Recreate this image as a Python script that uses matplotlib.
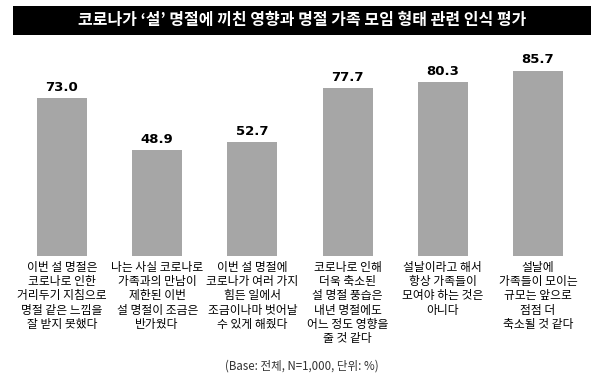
import matplotlib.pyplot as plt
from matplotlib.patches import Rectangle

plt.rcParams['font.family'] = ['Noto Sans CJK KR', 'DejaVu Sans']

title = "코로나가 ‘설’ 명절에 끼친 영향과 명절 가족 모임 형태 관련 인식 평가"
categories = [
    "이번 설 명절은\n코로나로 인한\n거리두기 지침으로\n명절 같은 느낌을\n잘 받지 못했다",
    "나는 사실 코로나로\n가족과의 만남이\n제한된 이번\n설 명절이 조금은\n반가웠다",
    "이번 설 명절에\n코로나가 여러 가지\n힘든 일에서\n조금이나마 벗어날\n수 있게 해줬다",
    "코로나로 인해\n더욱 축소된\n설 명절 풍습은\n내년 명절에도\n어느 정도 영향을\n줄 것 같다",
    "설날이라고 해서\n항상 가족들이\n모여야 하는 것은\n아니다",
    "설날에\n가족들이 모이는\n규모는 앞으로\n점점 더\n축소될 것 같다",
]
values = [73.0, 48.9, 52.7, 77.7, 80.3, 85.7]
note = "(Base: 전체, N=1,000, 단위: %)"

fig = plt.figure(figsize=(6, 3.84), dpi=100)
fig.patch.set_facecolor('white')

# title bar
fig.patches.append(Rectangle((13 / 600, 1 - 35 / 384), 578 / 600, 29 / 384,
                             transform=fig.transFigure, facecolor='black',
                             edgecolor='none'))
fig.text(0.503, 1 - 20.5 / 384, title, color='white', fontsize=11.5,
         fontweight='bold', ha='center', va='center')

ax = fig.add_axes([14.4 / 600, 128 / 384, 571.2 / 600, 196 / 384])
x = range(len(values))
ax.bar(x, values, width=0.525, color='#a6a6a6')
ax.set_xlim(-0.5, 5.5)
ax.set_ylim(0, 90.6)
ax.axis('off')

for i, v in enumerate(values):
    ax.text(i, v + 2.0, f"{v:.1f}", ha='center', va='bottom', fontsize=9.5,
            fontweight='semibold', family=['DejaVu Sans'])
    ax.text(i, -2.3, categories[i], ha='center', va='top', fontsize=8.5,
            linespacing=1.12, fontweight='medium')

fig.text(0.503, 1 - 366 / 384, note, ha='center', va='center', fontsize=8.3,
         color='#333333')

fig.savefig('out.png', dpi=100)
